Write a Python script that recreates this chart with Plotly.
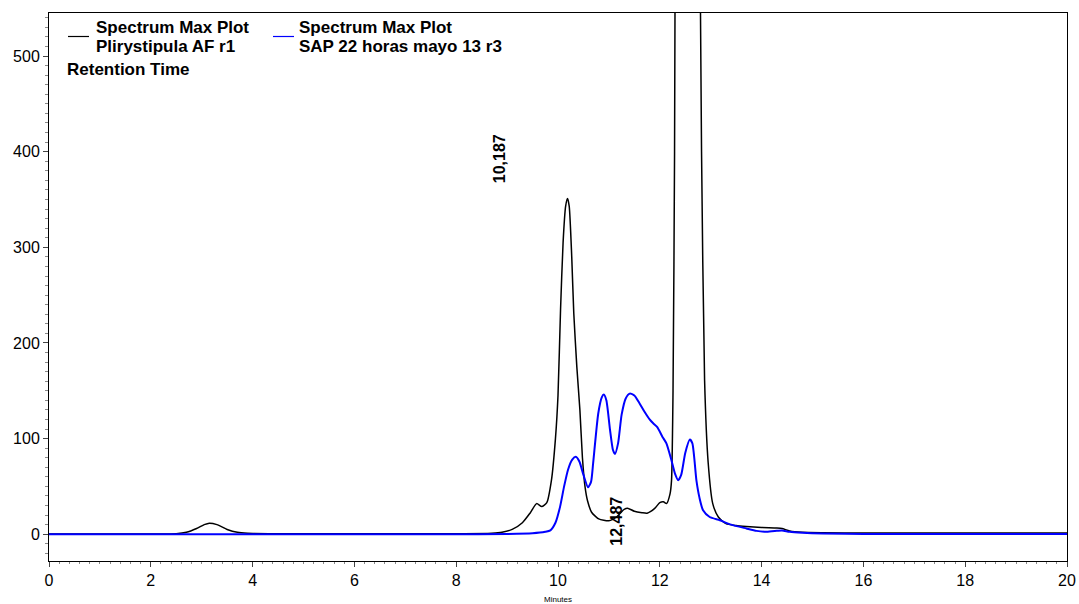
import plotly.graph_objects as go

# Retention time (min) and detector response for each run
rt_af = [0.0, 1.0, 2.0, 2.5, 2.7, 2.9, 3.05, 3.15, 3.3, 3.5, 3.7, 3.9, 4.5, 6.0, 8.0,
         8.7, 8.9, 9.1, 9.3, 9.45, 9.58, 9.68, 9.78, 9.87, 9.95, 10.0, 10.05, 10.1,
         10.15, 10.187, 10.22, 10.27, 10.31, 10.37, 10.43, 10.48, 10.53, 10.58, 10.66,
         10.8, 11.0, 11.15, 11.3, 11.38, 11.5, 11.65, 11.75, 11.9, 12.0, 12.07, 12.13,
         12.2, 12.23, 12.26, 12.29, 12.32, 12.4, 12.487, 12.6, 12.72, 12.78, 12.82,
         12.88, 12.95, 13.04, 13.15, 13.3, 13.5, 13.7, 14.0, 14.3, 14.4, 14.55, 14.8,
         15.2, 16.0, 18.0, 20.0]
resp_af = [0.3, 0.3, 0.3, 0.5, 2, 6, 10, 11.5, 10, 5, 2, 1, 0.6, 0.5, 0.5,
           1, 2, 5, 12, 22, 32, 29, 33, 56, 100, 145, 235, 305,
           343, 351, 343, 290, 231, 175, 130, 80, 50, 35, 23,
           16, 14, 18, 26, 27, 24, 22.5, 22, 27, 33, 34, 32,
           42, 56, 150, 400, 900, 1500, 1700, 1600, 1200, 700, 400,
           161, 75, 32, 18, 11, 9, 8, 7, 6.5, 6, 3.5, 2,
           1.5, 1.2, 1.2, 1.2]

rt_sap = [0.0, 8.0, 9.0, 9.5, 9.75, 9.85, 9.95, 10.04, 10.12, 10.2, 10.28, 10.35,
          10.42, 10.5, 10.59, 10.65, 10.69, 10.79, 10.86, 10.9, 10.95, 11.02, 11.08,
          11.12, 11.18, 11.25, 11.33, 11.41, 11.5, 11.6, 11.7, 11.8, 11.87, 11.95,
          12.05, 12.13, 12.23, 12.3, 12.36, 12.42, 12.5, 12.59, 12.64, 12.72, 12.78,
          12.85, 12.98, 13.18, 13.4, 13.7, 13.9, 14.1, 14.3, 14.4, 14.55, 14.8, 15.2,
          16.0, 20.0]
resp_sap = [0, 0, 0.3, 1, 2.5, 4, 12, 28.6, 50, 68, 78, 81,
            76, 62, 49, 55, 74, 126, 143, 146, 140, 110, 88,
            84, 95, 125, 142, 147, 145, 137, 128, 120, 116, 112,
            102, 95, 77, 63, 56.5, 62, 85, 99, 95, 56, 38,
            25, 18, 14.6, 10, 6, 3.5, 2.5, 3.5, 4, 2.5, 1.5, 0.7,
            0.3, 0.3]

# Labelled peak apexes (retention time, label height)
peak_rt = [10.187, 12.487]
peak_label_y = [393, 14]
label_shift = 1.33

x_ticks = [0, 2, 4, 6, 8, 10, 12, 14, 16, 18, 20]
y_ticks = [0, 100, 200, 300, 400, 500]

# Legend entries: colour and the two text lines of each run
legend_colors = ["#000000", "#0000FF"]
legend_line1 = ["Spectrum Max Plot", "Spectrum Max Plot"]
legend_line2 = ["Plirystipula AF r1", "SAP 22 horas mayo 13 r3"]
legend_footer = "Retention Time"

FONT = "Liberation Sans, Arial, sans-serif"
W, H = 1079, 604
ML, MR, MT, MB = 49, 12, 13, 43
PW, PH = W - ML - MR, H - MT - MB


def px_x(px):
    return (px - ML) / PW


def px_y(py):
    return 1 - (py - MT) / PH


fig = go.Figure()
fig.add_trace(go.Scatter(
    x=rt_af, y=resp_af, mode="lines", name=legend_line2[0],
    line=dict(color=legend_colors[0], width=1.5, shape="spline", smoothing=0.6),
))
fig.add_trace(go.Scatter(
    x=rt_sap, y=resp_sap, mode="lines", name=legend_line2[1],
    line=dict(color=legend_colors[1], width=2, shape="spline", smoothing=0.6),
))

for rt, ly in zip(peak_rt, peak_label_y):
    fig.add_annotation(
        x=rt - label_shift, y=ly, xref="x", yref="y",
        text="<b>" + f"{rt:.3f}".replace(".", ",") + "</b>",
        textangle=-90, showarrow=False,
        font=dict(family=FONT, size=16, color="#000000"),
        xanchor="center", yanchor="middle",
    )

# Hand-placed legend block in the top-left corner
legend_sample_x = [68, 273]
legend_text_x = [97, 300]
for i in range(2):
    x0 = legend_sample_x[i]
    fig.add_shape(
        type="line", xref="paper", yref="paper",
        x0=px_x(x0), x1=px_x(x0 + 21), y0=px_y(36.5), y1=px_y(36.5),
        line=dict(color=legend_colors[i], width=1.2),
    )
    for txt, ty in ((legend_line1[i], 27), (legend_line2[i], 46)):
        fig.add_annotation(
            x=px_x(legend_text_x[i] - 3), y=px_y(ty), xref="paper", yref="paper",
            text="<b>" + txt + "</b>", showarrow=False,
            xanchor="left", yanchor="middle",
            font=dict(family=FONT, size=17, color="#000000"),
        )
fig.add_annotation(
    x=px_x(68 - 3), y=px_y(69), xref="paper", yref="paper",
    text="<b>" + legend_footer + "</b>", showarrow=False,
    xanchor="left", yanchor="middle",
    font=dict(family=FONT, size=17, color="#000000"),
)

fig.update_layout(
    width=W, height=H,
    margin=dict(l=ML, r=MR, t=MT, b=MB, autoexpand=False),
    paper_bgcolor="white", plot_bgcolor="white",
    font=dict(family=FONT, size=16, color="#000000"),
    showlegend=False,
    xaxis=dict(
        range=[0, 20], tickvals=x_ticks, ticks="outside", ticklen=5,
        tickcolor="#444444", showgrid=False, zeroline=False, automargin=False,
        showline=True, linecolor="#000000", linewidth=1, mirror=True,
        minor=dict(dtick=0.2, ticks="outside", ticklen=2, tickcolor="#888888"),
        title=dict(text="Minutes", font=dict(size=8), standoff=12),
        tickfont=dict(size=16),
    ),
    yaxis=dict(
        range=[-28, 545], tickvals=y_ticks, ticks="outside", ticklen=5,
        tickcolor="#444444", showgrid=False, zeroline=False, automargin=False,
        showline=True, linecolor="#000000", linewidth=1, mirror=True,
        minor=dict(dtick=10, ticks="outside", ticklen=3, tickcolor="#888888"),
        tickfont=dict(size=16),
    ),
)

fig.write_html("out.html")
